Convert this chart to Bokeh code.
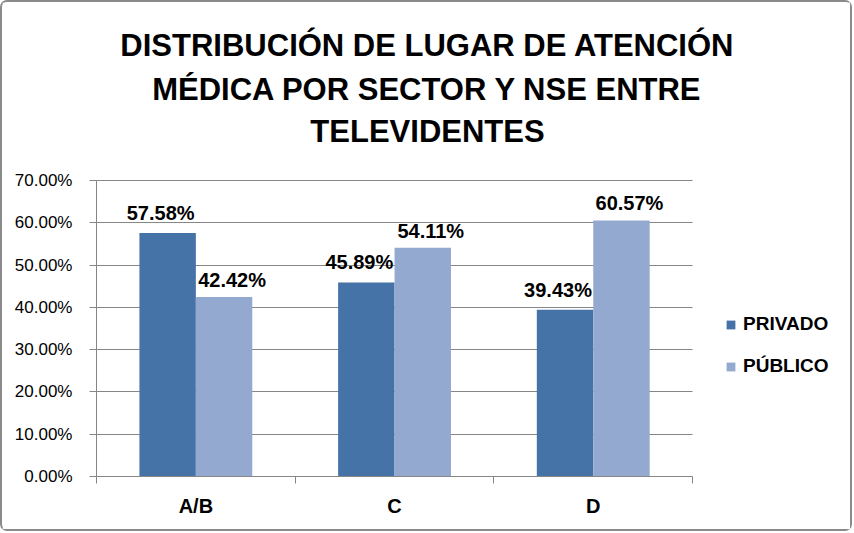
from bokeh.plotting import figure
from bokeh.models import (ColumnDataSource, Range1d, FixedTicker, SingleIntervalTicker,
                          PrintfTickFormatter, LabelSet, Label, Legend, LegendItem, Grid)
from bokeh.core.properties import value
from bokeh.embed import file_html
from bokeh.resources import INLINE

# ---- data ----
categories = ["A/B", "C", "D"]
series_names = ["PRIVADO", "PÚBLICO"]
privado = [57.58, 45.89, 39.43]
publico = [42.42, 54.11, 60.57]
y_max = 70
y_step = 10
title_lines = ["DISTRIBUCIÓN DE LUGAR DE ATENCIÓN",
               "MÉDICA POR SECTOR Y NSE ENTRE",
               "TELEVIDENTES"]

# ---- style / layout ----
C_PRIV = "#4572A7"
C_PUB = "#93A9CF"
GRID = "#868686"
FONT = "Liberation Sans"
BAR_W = 0.284
W, H = 852, 531
LEFT, BOTTOM = 94, 57            # axis panels
CAT_PX = 198.7                   # pixels per category
UNIT_PX = 296.0 / y_max          # pixels per percentage point
frame_w = W - LEFT
frame_h = H - BOTTOM

n = len(categories)
centers = [i + 0.5 for i in range(n)]

src_priv = ColumnDataSource(dict(
    x=[c - BAR_W / 2 for c in centers], top=privado,
    label=[f"{v:.2f}%" for v in privado]))
src_pub = ColumnDataSource(dict(
    x=[c + BAR_W / 2 for c in centers], top=publico,
    label=[f"{v:.2f}%" for v in publico]))

p = figure(width=W, height=H, output_backend="svg", toolbar_location=None,
           x_range=Range1d(0, frame_w / CAT_PX), y_range=Range1d(0, frame_h / UNIT_PX),
           min_border_left=LEFT, min_border_right=0, min_border_top=0, min_border_bottom=BOTTOM)
p.styles = {"border": "2px solid #8a8a8a", "border-radius": "7px"}
p.outline_line_color = None
p.background_fill_color = "white"
p.border_fill_color = "white"

r1 = p.vbar(x="x", top="top", width=BAR_W, source=src_priv, fill_color=C_PRIV, line_color=None)
r2 = p.vbar(x="x", top="top", width=BAR_W, source=src_pub, fill_color=C_PUB, line_color=None)

# axes
p.xgrid.visible = False
p.yaxis.bounds = (0, y_max)
p.xaxis.bounds = (0, n)
if "cross_bounds" in Grid.properties():
    p.ygrid.grid_line_color = GRID
    p.ygrid.cross_bounds = (0, n)
else:
    p.ygrid.visible = False
    ticks = list(range(y_step, y_max + 1, y_step))
    p.segment(x0=[0] * len(ticks), x1=[n] * len(ticks), y0=ticks, y1=ticks, line_color=GRID)

p.yaxis.ticker = SingleIntervalTicker(interval=y_step)
p.yaxis.formatter = PrintfTickFormatter(format="%.2f%%")
p.yaxis.axis_line_color = GRID
p.yaxis.major_tick_line_color = GRID
p.yaxis.major_tick_out = 7
p.yaxis.major_tick_in = 0
p.yaxis.minor_tick_line_color = None
p.yaxis.major_label_text_font = FONT
p.yaxis.major_label_text_font_size = "17px"
p.yaxis.major_label_text_color = "#000000"
p.yaxis.major_label_standoff = 17

p.xaxis.ticker = FixedTicker(ticks=centers, minor_ticks=list(range(n + 1)))
p.xaxis.major_label_overrides = {c: cat for c, cat in zip(centers, categories)}
p.xaxis.axis_line_color = GRID
p.xaxis.major_tick_line_color = None
p.xaxis.major_tick_out = 0
p.xaxis.major_tick_in = 0
p.xaxis.minor_tick_line_color = GRID
p.xaxis.minor_tick_out = 7
p.xaxis.minor_tick_in = 0
p.xaxis.major_label_text_font = FONT
p.xaxis.major_label_text_font_size = "20px"
p.xaxis.major_label_text_font_style = "bold"
p.xaxis.major_label_text_color = "#000000"
p.xaxis.major_label_standoff = 11

# data labels
for src, xo, yo in ((src_priv, -7, 13), (src_pub, 8, 10)):
    p.add_layout(LabelSet(x="x", y="top", text="label", source=src,
                          x_offset=xo, y_offset=yo,
                          text_align="center", text_baseline="alphabetic",
                          text_font=value(FONT), text_font_size=value("20px"),
                          text_font_style="bold", text_color="#000000"))

# title (three centred lines above the plot area)
title_cx = (427 - 96) / CAT_PX
for line, py in zip(title_lines, (45, 89, 131)):
    p.add_layout(Label(x=title_cx, y=(476 - py) / UNIT_PX, text=line,
                       text_align="center", text_baseline="middle",
                       text_font=FONT, text_font_size="31px", text_font_style="bold",
                       text_color="#000000"))

# legend
legend = Legend(items=[LegendItem(label=series_names[0], renderers=[r1]),
                       LegendItem(label=series_names[1], renderers=[r2])],
                location=(629, 99), orientation="vertical",
                glyph_width=11, glyph_height=11, label_standoff=7,
                label_height=20, spacing=20, padding=0, margin=0,
                border_line_color=None, background_fill_alpha=0,
                label_text_font=FONT, label_text_font_size="19px",
                label_text_font_style="bold", label_text_color="#000000")
p.add_layout(legend, "center")

open("out.html", "w").write(file_html(p, INLINE))
